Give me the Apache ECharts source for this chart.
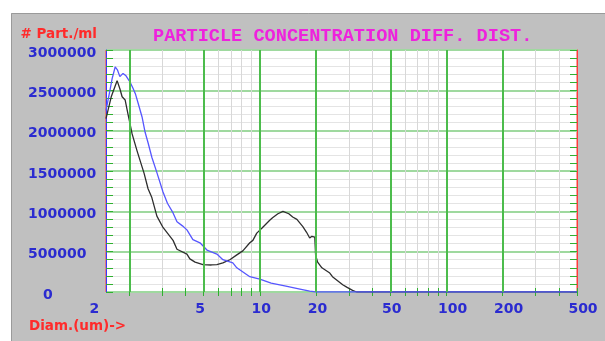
<!DOCTYPE html>
<html><head><meta charset="utf-8">
<script src="https://cdn.jsdelivr.net/npm/echarts@6/dist/echarts.min.js"></script>
<style>html,body{margin:0;padding:0;background:#fff}#c{width:605px;height:341px}</style>
</head><body><div id="c"></div>
<script>
// ---- data ----
const titleText = 'PARTICLE CONCENTRATION DIFF. DIST.';
const yAxisName = '# Part./ml';
const xAxisName = 'Diam.(um)->';
const xMajorTicks = [2, 5, 10, 20, 50, 100, 200, 500];
const xMinorTicks = [3, 4, 6, 7, 8, 9, 30, 40, 60, 70, 80, 90, 300, 400];
const xMin = 1.5, xMax = 500;
const yMin = 0, yMax = 3000000, yStep = 500000;

const diamBlack = [1.5,1.6,1.72,1.78,1.83,1.9,1.97,2.07,2.2,2.4,2.52,2.64,2.81,3.03,3.43,3.6,4.07,4.22,4.5,4.96,5.5,5.89,6.34,6.91,7.53,8.11,8.84,9.18,9.63,10.25,11.3,11.7,12.5,13.3,14.3,15.0,15.8,17.0,17.8,18.5,19.0,19.7,19.9,20.4,21.5,23.7,24.5,27.8,29.2,31.4,33.0,500];
const concBlack = [2150000,2420000,2620000,2520000,2420000,2380000,2200000,1960000,1750000,1470000,1280000,1170000,940000,800000,640000,530000,470000,410000,370000,340000,335000,340000,360000,400000,460000,510000,610000,640000,730000,790000,890000,920000,970000,1000000,970000,930000,900000,810000,740000,670000,690000,680000,460000,370000,300000,235000,190000,90000,60000,20000,0,0];

const diamBlue = [1.5,1.56,1.62,1.68,1.73,1.78,1.85,1.92,2.02,2.09,2.16,2.23,2.34,2.43,2.52,2.64,2.81,3.03,3.2,3.43,3.6,3.85,4.07,4.38,4.78,5.21,5.89,6.34,7.17,7.53,8.84,10,11.5,13.8,16.4,18.5,20,500];
const concBlue = [2250000,2450000,2650000,2790000,2750000,2670000,2710000,2680000,2600000,2530000,2450000,2340000,2170000,1980000,1850000,1670000,1480000,1240000,1100000,980000,870000,820000,770000,650000,610000,520000,470000,400000,360000,300000,190000,160000,110000,74000,37000,10000,0,0];

// ---- styles ----
const lblFont = {fontFamily: 'DejaVu Sans', fontWeight: 'bold', fontSize: 14, color: '#2b2bd0'};
const redFont = {fontFamily: 'DejaVu Sans', fontWeight: 'bold', fontSize: 13.5, color: '#ff2b2b'};
const green = '#2fb02f';
const majorGridColor = '#4cbc4c';
const minorGridColor = '#d8d8d8';
const allX = xMajorTicks.concat(xMinorTicks).sort((a, b) => a - b);
const gridColors = allX.map(v => xMajorTicks.indexOf(v) >= 0 ? majorGridColor : minorGridColor);

const chart = echarts.init(document.getElementById('c'), null, {renderer: 'canvas'});
chart.setOption({
  animation: false,
  backgroundColor: '#c0c0c0',
  graphic: [
    {type: 'rect', left: 0, top: 0, shape: {width: 605, height: 13}, style: {fill: '#ffffff'}, silent: true},
    {type: 'rect', left: 0, top: 0, shape: {width: 11, height: 341}, style: {fill: '#ffffff'}, silent: true},
    {type: 'line', shape: {x1: 11.5, y1: 13.5, x2: 605, y2: 13.5}, style: {stroke: '#9a9a9a', lineWidth: 1}, silent: true},
    {type: 'line', shape: {x1: 11.5, y1: 13.5, x2: 11.5, y2: 341}, style: {stroke: '#9a9a9a', lineWidth: 1}, silent: true}
  ],
  title: {
    text: titleText, left: 148, top: 22,
    textStyle: {fontFamily: 'Liberation Mono', fontWeight: 'bold', fontSize: 18.6, color: '#ee22dd'}
  },
  grid: {left: 106, right: 28, top: 50, bottom: 49, show: true, backgroundColor: '#ffffff', borderColor: '#ff3c3c', borderWidth: 1},
  xAxis: [
    {
      type: 'log', logBase: 10, min: xMin, max: xMax, position: 'bottom',
      axisLine: {show: false},
      axisTick: {show: true, inside: true, length: 4, customValues: allX, lineStyle: {color: green}},
      minorTick: {show: false},
      splitLine: {show: true, lineStyle: {color: gridColors, width: 1}},
      axisLabel: {
        customValues: xMajorTicks, margin: 10,
        formatter: function (v) {
          const n = Math.round(v);
          if (n === 2) return '{two|2}';
          const s = String(n);
          return '{d' + s.length + '|' + s + '}';
        },
        rich: {
          two: Object.assign({padding: [0, 70, 0, 0]}, lblFont),
          d1: Object.assign({padding: [0, 7, 0, 0]}, lblFont),
          d2: Object.assign({padding: [0, 0, 0, 3]}, lblFont),
          d3: Object.assign({padding: [0, 0, 0, 12]}, lblFont)
        }
      },
      name: xAxisName, nameLocation: 'start', nameGap: 77,
      nameTextStyle: Object.assign({align: 'left', verticalAlign: 'top', padding: [27, 0, 0, 0]}, redFont)
    },
    {
      type: 'log', logBase: 10, min: xMin, max: xMax, position: 'top',
      axisLine: {show: false},
      axisTick: {show: true, inside: true, length: 4, customValues: allX, lineStyle: {color: green}},
      axisLabel: {show: false},
      splitLine: {show: false}
    }
  ],
  yAxis: [
    {
      type: 'value', min: yMin, max: yMax, interval: yStep, position: 'left',
      axisLine: {show: true, onZero: false, lineStyle: {color: '#3838ff', width: 1}},
      axisTick: {show: true, inside: true, length: 7, lineStyle: {color: green}},
      minorTick: {show: true, splitNumber: 5, length: 7, lineStyle: {color: green}},
      splitLine: {show: true, lineStyle: {color: '#9fd99f', width: 2}},
      minorSplitLine: {show: true, lineStyle: {color: '#e4e4e4', width: 1}},
      axisLabel: {
        align: 'left', margin: 78,
        formatter: function (v) { return v === 0 ? '{z|0}' : '{n|' + v + '}'; },
        rich: {
          z: Object.assign({padding: [6, 0, 0, 15]}, lblFont),
          n: Object.assign({padding: [6, 0, 0, 0]}, lblFont)
        }
      },
      name: yAxisName, nameLocation: 'end', nameGap: 16,
      nameTextStyle: Object.assign({align: 'right', verticalAlign: 'middle', padding: [0, 9, 0, 0]}, redFont)
    },
    {
      type: 'value', min: yMin, max: yMax, interval: yStep, position: 'right',
      axisLine: {show: true, onZero: false, lineStyle: {color: '#ff3c3c', width: 1}},
      axisTick: {show: true, inside: true, length: 7, lineStyle: {color: green}},
      minorTick: {show: true, splitNumber: 5, length: 7, lineStyle: {color: green}},
      splitLine: {show: false},
      axisLabel: {show: false}
    }
  ],
  series: [
    {
      type: 'line', name: 'grid', xAxisIndex: 0, yAxisIndex: 0, data: [], z: 2, silent: true,
      markLine: {
        silent: true, symbol: ['none', 'none'], label: {show: false}, animation: false,
        lineStyle: {color: majorGridColor, width: 2, type: 'solid'},
        emphasis: {disabled: true},
        data: xMajorTicks.filter(v => v < xMax).map(v => ({xAxis: v}))
      }
    },
    {
      type: 'line', name: 'black', xAxisIndex: 0, yAxisIndex: 0, symbol: 'none', z: 3,
      lineStyle: {color: '#2e2e2e', width: 1.3},
      data: diamBlack.map((d, i) => [d, concBlack[i]])
    },
    {
      type: 'line', name: 'blue', xAxisIndex: 0, yAxisIndex: 0, symbol: 'none', z: 4,
      lineStyle: {color: '#5656ff', width: 1.3},
      data: diamBlue.map((d, i) => [d, concBlue[i]])
    }
  ]
});
</script>
</body></html>
